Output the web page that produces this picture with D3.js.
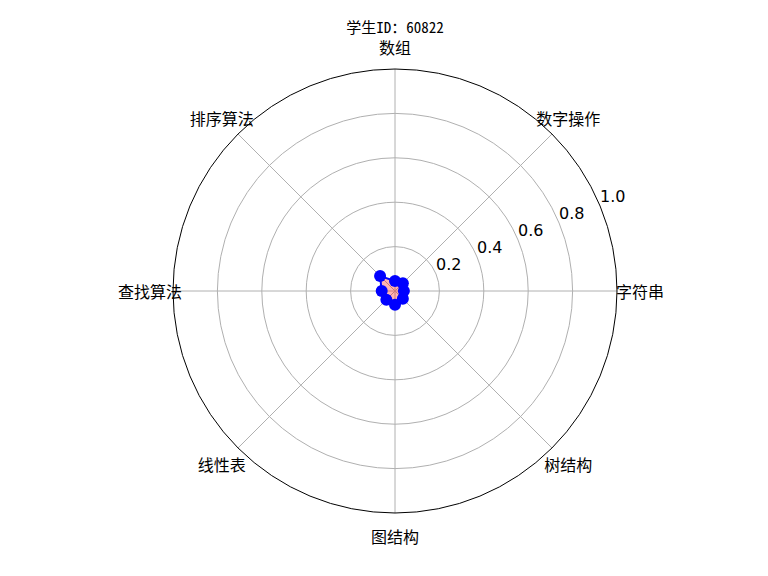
<!DOCTYPE html>
<html><head><meta charset="utf-8">
<script src="https://cdn.jsdelivr.net/npm/d3@7"></script>
<style>body{margin:0;background:#fff}</style>
</head><body>
<svg id="c" width="768" height="576"></svg>
<script>
const title = "学生ID：60822";
const categories = ["字符串","数字操作","数组","排序算法","查找算法","线性表","图结构","树结构"];
const values = [0.04, 0.05, 0.045, 0.095, 0.06, 0.055, 0.062, 0.05];
const rTicks = [0.2, 0.4, 0.6, 0.8, 1.0];

const svg = d3.select("#c");
const cx = 395, cy = 291, R = 222;
const cjk = "'Noto Sans CJK SC','Noto Sans CJK JP',sans-serif";
const r = d3.scaleLinear().domain([0, 1]).range([0, R]);
const ang = d3.scaleLinear().domain([0, categories.length]).range([0, 2 * Math.PI]);
const g = svg.append("g").attr("transform", `translate(${cx},${cy})`);
const pt = (i, v) => [r(v) * Math.cos(ang(i)), -r(v) * Math.sin(ang(i))];

g.selectAll("circle.grid").data(rTicks.slice(0, -1)).join("circle")
  .attr("r", d => r(d)).attr("fill", "none").attr("stroke", "#b0b0b0").attr("stroke-width", 1);
g.selectAll("line.spoke").data(categories).join("line")
  .attr("x1", 0).attr("y1", 0)
  .attr("x2", (d, i) => pt(i, 1)[0]).attr("y2", (d, i) => pt(i, 1)[1])
  .attr("stroke", "#b0b0b0").attr("stroke-width", 1);
g.append("circle").attr("r", r(1)).attr("fill", "none").attr("stroke", "#000").attr("stroke-width", 1);

const la = Math.PI / 8;
g.selectAll("text.rt").data(rTicks).join("text")
  .attr("x", d => r(d) * Math.cos(la)).attr("y", d => -r(d) * Math.sin(la))
  .attr("dy", "-0.25em")
  .attr("text-anchor", "start")
  .attr("font-family", "'DejaVu Sans',sans-serif").attr("font-size", 16)
  .text(d => d.toFixed(1));

g.selectAll("text.cat").data(categories).join("text")
  .attr("x", (d, i) => 245 * Math.cos(ang(i))).attr("y", (d, i) => -245 * Math.sin(ang(i)) + (i === 2 ? 1 : 0))
  .attr("text-anchor", "middle").attr("dominant-baseline", "central")
  .attr("font-family", cjk).attr("font-size", 16)
  .text(d => d);

const line = d3.line().curve(d3.curveLinearClosed);
const pts = values.map((v, i) => pt(i, v));
g.append("path").attr("d", line(pts)).attr("fill", "rgba(255,0,0,0.3)").attr("stroke", "none");
g.append("path").attr("d", line(pts)).attr("fill", "none").attr("stroke", "#0000ff").attr("stroke-width", 2);
g.selectAll("circle.pt").data(pts).join("circle")
  .attr("cx", d => d[0]).attr("cy", d => d[1]).attr("r", 6).attr("fill", "#0000ff");

svg.append("text").attr("x", cx).attr("y", 26)
  .attr("text-anchor", "middle").attr("dominant-baseline", "central")
  .attr("font-family", "'Noto Sans Mono CJK SC','Noto Sans CJK SC',monospace").attr("font-size", 15)
  .text(title);
</script>
</body></html>
